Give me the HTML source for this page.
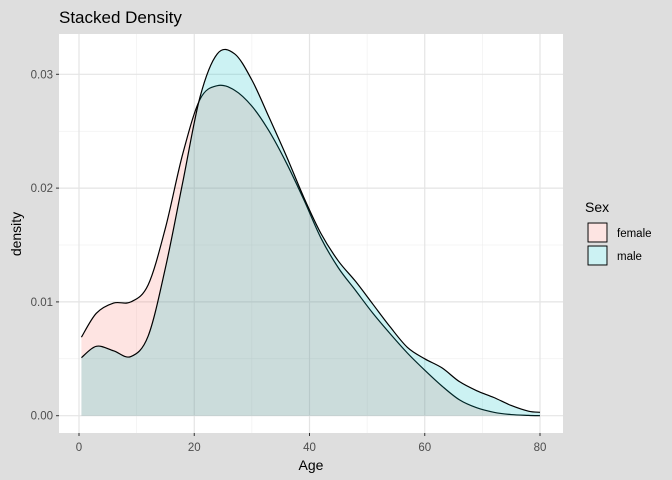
<!DOCTYPE html>
<html><head><meta charset="utf-8"><style>
body{margin:0;background:#ebebeb}
svg{display:block;font-family:"Liberation Sans",Arial,sans-serif}
</style></head><body>
<svg id="c" width="672" height="480" xmlns="http://www.w3.org/2000/svg">
<rect width="672" height="480" fill="#dedede"/>
<rect x="59" y="34" width="504" height="399" fill="#ffffff"/>
<g id="grid"></g>
<g id="series"></g>
<g id="axes"></g>
<text x="59" y="23" font-size="17" fill="#000">Stacked Density</text>
<text x="311" y="470" font-size="14" text-anchor="middle" fill="#000">Age</text>
<text x="21" y="234" font-size="14" text-anchor="middle" transform="rotate(-90 21 234)" fill="#000">density</text>
<g>
<text x="585" y="212" font-size="14">Sex</text>
<g>
<rect x="587" y="222" width="21" height="21" fill="#ebebeb"/>
<rect x="588" y="223" width="19" height="19" fill="#fde4e2" stroke="#000" stroke-width="1"/>
<text x="617" y="237" font-size="11.5">female</text></g>
<g>
<rect x="587" y="245" width="21" height="21" fill="#ebebeb"/>
<rect x="588" y="246" width="19" height="19" fill="#ccf2f3" stroke="#000" stroke-width="1"/>
<text x="617" y="260" font-size="11.5">male</text></g>
</g>
</svg>
<script>
const ages=[0.42,3,6,9,12,15,18,21,24,27,30,33,36,39,42,45,48,51,54,57,60,63,66,69,72,75,78,80];
const female=[0.0069,0.0090,0.0099,0.0100,0.0115,0.0165,0.0230,0.0278,0.0290,0.0286,0.0272,0.0250,0.0222,0.0190,0.0156,0.0130,0.0110,0.0090,0.0072,0.0055,0.0040,0.0026,0.0014,0.0007,0.0003,0.0001,0.00003,0.0];
const male=[0.0051,0.0061,0.0057,0.0052,0.0070,0.0130,0.0205,0.0280,0.0318,0.0318,0.0295,0.0262,0.0228,0.0192,0.0160,0.0136,0.0118,0.0098,0.0078,0.0060,0.0050,0.0042,0.0030,0.0022,0.0016,0.0009,0.0004,0.0003];
const xTicks=[0,20,40,60,80];
const yTicks=[0,0.01,0.02,0.03];
const yTickLabels=["0.00","0.01","0.02","0.03"];
const NS="http://www.w3.org/2000/svg";
const X=v=>79+v*(540-79)/80;
const Y=v=>415.7-v*(415.7-74.3)/0.03;
function mk(t,a,p){const e=document.createElementNS(NS,t);for(const k in a)e.setAttribute(k,a[k]);p.appendChild(e);return e;}
const grid=document.getElementById('grid'),axes=document.getElementById('axes'),ser=document.getElementById('series');
[10,30,50,70].forEach(v=>{const l=mk('line',{x1:X(v),x2:X(v),y1:34,y2:433,stroke:'#ebebeb','stroke-width':0.5},grid);});
[0.005,0.015,0.025].forEach(v=>{const l=mk('line',{x1:59,x2:563,y1:Y(v),y2:Y(v),stroke:'#ebebeb','stroke-width':0.5},grid);});
xTicks.forEach(v=>{const l=mk('line',{x1:X(v),x2:X(v),y1:34,y2:433,stroke:'#e4e4e4','stroke-width':1.2},grid);
const t=mk('line',{x1:X(v),x2:X(v),y1:433,y2:436,stroke:'#333'},axes);
const s=mk('text',{x:X(v),y:451,'font-size':11.5,'text-anchor':'middle',fill:'#4d4d4d'},axes);s.textContent=v;});
yTicks.forEach((v,i)=>{const l=mk('line',{x1:59,x2:563,y1:Y(v),y2:Y(v),stroke:'#e4e4e4','stroke-width':1.2},grid);
const t=mk('line',{x1:56,x2:59,y1:Y(v),y2:Y(v),stroke:'#333'},axes);
const s=mk('text',{x:53,y:Y(v)+4,'font-size':11.5,'text-anchor':'end',fill:'#4d4d4d'},axes);s.textContent=yTickLabels[i];});
function curve(vals){const p=ages.map((a,i)=>[X(a),Y(vals[i])]);let d='M'+p[0][0]+','+p[0][1];
for(let i=0;i<p.length-1;i++){const p0=p[Math.max(0,i-1)],p1=p[i],p2=p[i+1],p3=p[Math.min(p.length-1,i+2)];
d+=' C'+(p1[0]+(p2[0]-p0[0])/6)+','+(p1[1]+(p2[1]-p0[1])/6)+' '+(p2[0]-(p3[0]-p1[0])/6)+','+(p2[1]-(p3[1]-p1[1])/6)+' '+p2[0]+','+p2[1];}return d;}
function draw(vals,col,name){const c=curve(vals);
const a=mk('path',{d:c+' L'+X(ages[ages.length-1])+','+Y(0)+' L'+X(ages[0])+','+Y(0)+' Z',fill:col,'fill-opacity':0.2,stroke:'none'},ser);
const l=mk('path',{d:c,fill:'none',stroke:'#000','stroke-width':1.2},ser);}
draw(female,'#F8766D','female');
draw(male,'#00BFC4','male');
</script>
</body></html>
